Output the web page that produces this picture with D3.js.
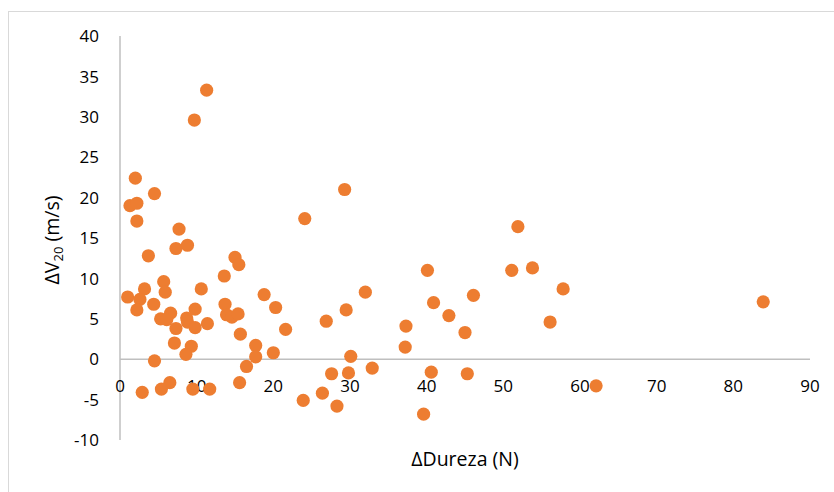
<!DOCTYPE html>
<html><head><meta charset="utf-8">
<script src="https://cdn.jsdelivr.net/npm/d3@7"></script>
<style>body{margin:0;background:#fff}svg{display:block}</style>
</head><body><svg id="c" width="834" height="492"></svg>
<script>
const xTicks = [0,10,20,30,40,50,60,70,80,90];
const yTicks = [-10,-5,0,5,10,15,20,25,30,35,40];
const dureza = [11.3,9.7,2.0,4.5,1.3,2.2,2.2,7.7,24.1,29.3,51.9,7.3,8.8,3.7,15.0,15.5,13.6,5.7,5.9,3.2,10.6,1.0,2.6,2.2,4.4,13.7,9.8,6.6,5.3,6.1,8.7,8.8,7.3,9.8,11.4,13.9,14.6,15.4,15.7,7.1,9.3,8.6,4.5,17.7,17.7,18.8,20.3,21.6,20.0,16.5,15.6,6.5,5.4,2.9,9.5,11.7,23.9,26.4,28.3,27.6,29.8,30.1,32.9,29.5,26.9,32.0,37.3,37.2,40.1,40.9,42.9,45.0,46.1,40.6,45.3,39.6,51.1,53.8,57.8,56.1,62.1,83.9];
const dv20 = [33.3,29.6,22.4,20.5,19.0,19.3,17.1,16.1,17.4,21.0,16.4,13.7,14.1,12.8,12.6,11.7,10.3,9.6,8.3,8.7,8.7,7.7,7.4,6.1,6.8,6.8,6.2,5.7,5.0,4.9,5.1,4.6,3.8,3.9,4.4,5.5,5.2,5.6,3.1,2.0,1.6,0.6,-0.2,1.7,0.3,8.0,6.4,3.7,0.8,-0.9,-2.9,-2.9,-3.7,-4.1,-3.7,-3.7,-5.1,-4.2,-5.8,-1.8,-1.7,0.35,-1.1,6.1,4.7,8.3,4.1,1.5,11.0,7.0,5.4,3.3,7.9,-1.6,-1.8,-6.8,11.0,11.3,8.7,4.6,-3.3,7.1];

const svg = d3.select('#c');
const font = "'Open Sans', 'Noto Sans', sans-serif";
svg.append('rect').attr('x',8.5).attr('y',11.5).attr('width',900).attr('height',600)
  .attr('fill','#fff').attr('stroke','#d9d9d9').attr('stroke-width',1);

const x = d3.scaleLinear().domain([0,90]).range([120,810]);
const y = d3.scaleLinear().domain([-10,40]).range([440,36]);

svg.append('line').attr('x1',x(0)).attr('x2',x(0)).attr('y1',y(40)).attr('y2',y(-10))
  .attr('stroke','#bfbfbf').attr('stroke-width',1.5);
svg.append('line').attr('x1',x(0)).attr('x2',x(90)).attr('y1',y(0)).attr('y2',y(0))
  .attr('stroke','#bfbfbf').attr('stroke-width',1.5);

svg.append('g').selectAll('text').data(yTicks).join('text')
  .attr('x',99).attr('y',d=>y(d)).attr('dy','0.36em').attr('text-anchor','end')
  .attr('font-family',font).attr('font-size',17).attr('fill','#000').text(d=>d);
svg.append('g').selectAll('text').data(xTicks).join('text')
  .attr('x',d=>x(d)).attr('y',386).attr('dy','0.36em').attr('text-anchor','middle')
  .attr('font-family',font).attr('font-size',17).attr('fill','#000').text(d=>d);

svg.append('g').selectAll('circle').data(dureza.map((d,i)=>[d,dv20[i]])).join('circle')
  .attr('cx',d=>x(d[0])).attr('cy',d=>y(d[1])).attr('r',6.6).attr('fill','#ED7D31');

svg.append('text').attr('x',465).attr('y',459).attr('dy','0.36em').attr('text-anchor','middle')
  .attr('font-family',font).attr('font-size',19.5).attr('fill','#000').text('ΔDureza (N)');
const yl = svg.append('text').attr('transform','translate(52,240) rotate(-90)').attr('dy','0.36em')
  .attr('text-anchor','middle').attr('font-family',font).attr('font-size',19.5).attr('fill','#000');
yl.append('tspan').text('ΔV');
yl.append('tspan').attr('font-size',13).attr('dy','4').text('20');
yl.append('tspan').attr('dy','-4').text(' (m/s)');
</script></body></html>
